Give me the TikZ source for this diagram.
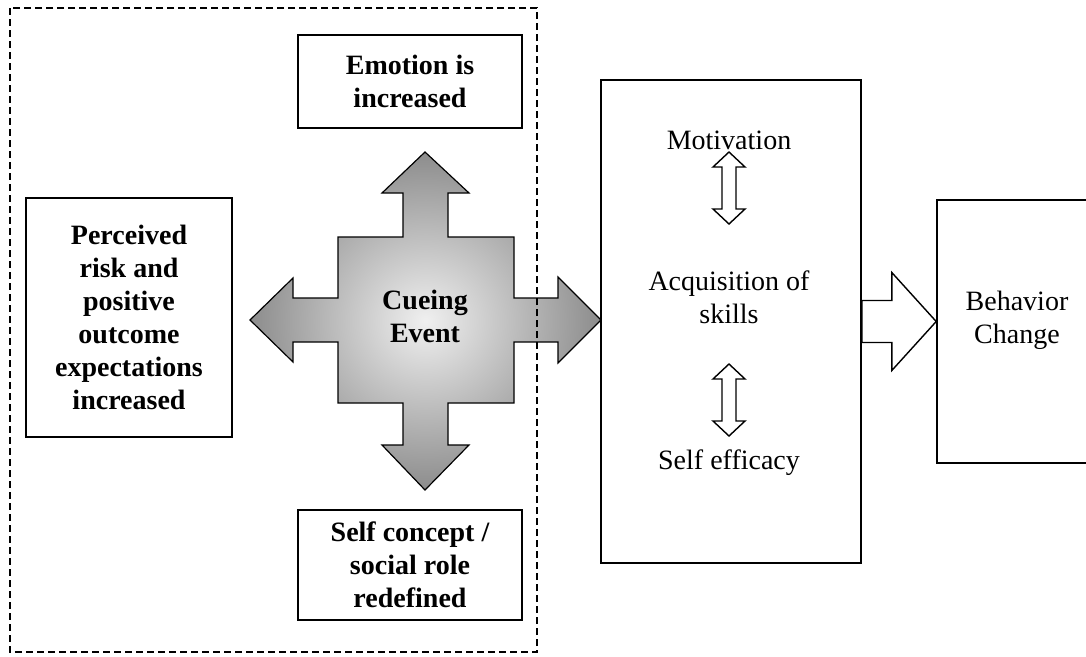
\documentclass[tikz,border=0pt]{standalone}
\usepackage{fontspec}
\setmainfont{Liberation Serif}
\usetikzlibrary{positioning}
\usetikzlibrary{calc}

\tikzset{
	tbox/.style={draw, line width=1.6pt, align=center, inner sep=0pt, font=\fontsize{28}{33}\selectfont\bfseries},
	pbox/.style={draw, line width=1.6pt, inner sep=0pt},
	ptext/.style={align=center, inner sep=0pt, font=\fontsize{28}{33}\selectfont},
	hollow/.style={draw, line width=1.4pt, fill=white, line join=miter},
	dblarr/.pic={\draw[hollow] (0,-36) -- (16,-21) -- (7,-21) -- (7,21) -- (16,21) -- (0,36) -- (-16,21) -- (-7,21) -- (-7,-21) -- (-16,-21) -- cycle;}
}

\begin{document}
\begin{tikzpicture}[x=1pt, y=-1pt]
			\clip (0,0) rectangle (1086,656);
			\node at (410,81.5) (emo) [tbox, minimum width=224, minimum height=93] {Emotion is\\increased};
			\node at (129,317.5) (risk) [tbox, minimum width=206, minimum height=239] {Perceived\\risk and\\positive\\outcome\\expectations\\increased};
			\node at (410,565) (role) [tbox, minimum width=224, minimum height=110] {Self concept /\\social role\\redefined};
			\coordinate (cue) at (425,320);
			\draw[line width=1.2pt, line join=miter, inner color=black!6, outer color=black!45, shift={(cue)}]
				(89,-22) -- (133,-22) -- (133,-43) -- (176,0) -- (133,43) -- (133,22) -- (89,22) -- (89,83) -- (23,83) -- (23,125) -- (44,125) -- (0,170) -- (-43,125) -- (-22,125) -- (-22,83) -- (-87,83) -- (-87,22) -- (-132,22) -- (-132,42) -- (-175,0) -- (-132,-42) -- (-132,-22) -- (-87,-22) -- (-87,-83) -- (-22,-83) -- (-22,-127) -- (-43,-127) -- (0,-168) -- (44,-127) -- (23,-127) -- (23,-83) -- (89,-83) -- cycle;
			\node at ($(cue)+(0,-4)$) (cuetext) [align=center, font=\fontsize{28}{33}\selectfont\bfseries] {Cueing\\Event};
			\node at (731,321.5) (learn) [pbox, minimum width=260, minimum height=483] {};
			\node at (729,140) (mot) [ptext] {Motivation};
			\node at (729,297) (acq) [ptext] {Acquisition of\\skills};
			\node at (729,463) (eff) [ptext] {Self efficacy};
			\coordinate (m1) at (729,188); \coordinate (m2) at (729,400);
			\pic at (m1) {dblarr}; \pic at (m2) {dblarr};
			\node at (1017,331.5) (beh) [pbox, minimum width=160, minimum height=263] {};
			\node at (1017,320) (behtext) [ptext] {Behavior\\Change};
			\draw[hollow] ($(learn.east)+(0,-21)$) -- ++(30,0) -- ++(0,-28) -- (learn.east -| beh.west) -- ($(learn.east)+(30,49)$) -- ++(0,-28) -- ($(learn.east)+(0,21)$) -- cycle;
			\draw[line width=1.4pt, dash pattern=on 7pt off 4pt] (10,8) rectangle (537,652); %group of the cueing effects
\end{tikzpicture}
\end{document}
